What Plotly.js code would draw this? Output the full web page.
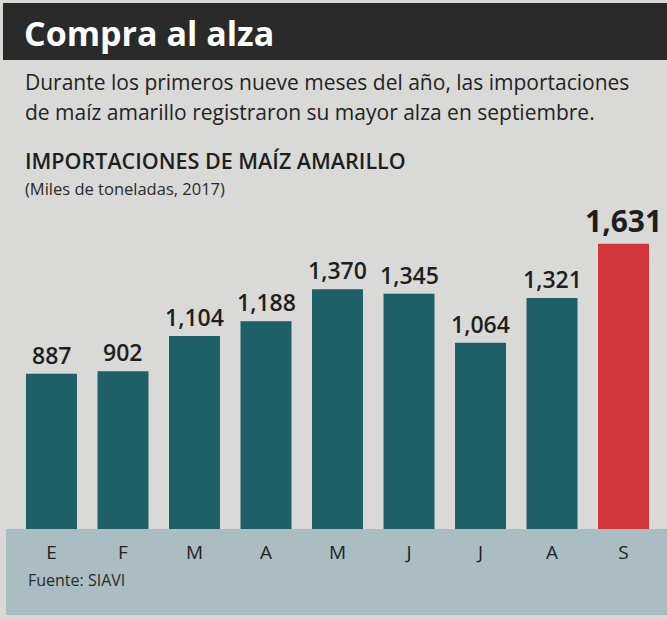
<!DOCTYPE html>
<html>
<head>
<meta charset="utf-8">
<script src="https://cdn.plot.ly/plotly-3.0.1.min.js"></script>
<style>html,body{margin:0;padding:0;background:#d9d9d7;}#chart{width:667px;height:619px;}</style>
</head>
<body>
<div id="chart"></div>
<script>
const months = ["E","F","M","A","M","J","J","A","S"];
const values = [887, 902, 1104, 1188, 1370, 1345, 1064, 1321, 1631];
const barColors = ["#1f5f67","#1f5f67","#1f5f67","#1f5f67","#1f5f67","#1f5f67","#1f5f67","#1f5f67","#d1363a"];
const labelSizes = [23,23,23,23,23,23,23,23,30];

const xs = months.map((m,i)=>i);
const fmt = v => v.toLocaleString('en-US');
const FONT = "Open Sans, Noto Sans, sans-serif";
const H = 619;
const py = p => 1 - p / H;
const px = p => p / 667;

const trace = {
  type: 'bar', x: xs, y: values,
  marker: {color: barColors},
  width: 0.713,
  hoverinfo: 'skip'
};

const annotations = xs.map((x,i)=>({
  x: x, y: values[i], xref:'x', yref:'y',
  text: fmt(values[i]), showarrow:false,
  yanchor:'bottom', xanchor:'center', yshift: 1,
  font:{family:FONT, size:labelSizes[i], color:'#1e1e1e', weight: i===8?700:600}
}));

annotations.push(
  {xref:'paper', yref:'paper', x:px(22), y:py(33), xanchor:'left', yanchor:'middle', showarrow:false,
   text:'Compra al alza', font:{family:FONT, size:34, color:'#ffffff', weight:700}},
  {xref:'paper', yref:'paper', x:px(23), y:py(82), xanchor:'left', yanchor:'middle', showarrow:false,
   text:'Durante los primeros nueve meses del año, las importaciones', font:{family:FONT, size:21, color:'#232323'}},
  {xref:'paper', yref:'paper', x:px(23), y:py(112), xanchor:'left', yanchor:'middle', showarrow:false,
   text:'de maíz amarillo registraron su mayor alza en septiembre.', font:{family:FONT, size:21, color:'#232323'}},
  {xref:'paper', yref:'paper', x:px(23), y:py(160), xanchor:'left', yanchor:'middle', showarrow:false,
   text:'IMPORTACIONES DE MAÍZ AMARILLO', font:{family:FONT, size:21.5, color:'#1e1e1e', weight:600}},
  {xref:'paper', yref:'paper', x:px(23), y:py(188), xanchor:'left', yanchor:'middle', showarrow:false,
   text:'(Miles de toneladas, 2017)', font:{family:FONT, size:16.5, color:'#2a2a2a'}},
  {xref:'paper', yref:'paper', x:px(26), y:py(580), xanchor:'left', yanchor:'middle', showarrow:false,
   text:'Fuente: SIAVI', font:{family:FONT, size:16, color:'#2a2a2a'}}
);

const shapes = [
  {type:'rect', xref:'paper', yref:'paper', x0:px(3), x1:1, y0:py(60), y1:py(3),
   fillcolor:'#2a2a2a', line:{width:0}, layer:'below'},
  {type:'rect', xref:'paper', yref:'paper', x0:px(6), x1:1, y0:py(615), y1:py(529),
   fillcolor:'#a9bdc2', line:{width:0}, layer:'below'}
];

const layout = {
  width: 667, height: 619,
  margin: {l:0, r:0, t:0, b:0},
  paper_bgcolor: '#d9d9d7',
  plot_bgcolor: 'rgba(0,0,0,0)',
  showlegend: false,
  xaxis: {
    domain:[0,1], range:[-0.72, 8.608], fixedrange:true,
    tickvals: xs, ticktext: months, showgrid:false, zeroline:false, showline:false,
    ticks:'', ticklabelstandoff: 10,
    tickfont:{family:FONT, size:19, color:'#222'}
  },
  yaxis: {
    domain:[1-529/H, 1-215/H], range:[0, 1795], visible:false, fixedrange:true
  },
  annotations: annotations,
  shapes: shapes
};

Plotly.newPlot('chart', [trace], layout, {displayModeBar:false, staticPlot:true});
</script>
</body>
</html>
